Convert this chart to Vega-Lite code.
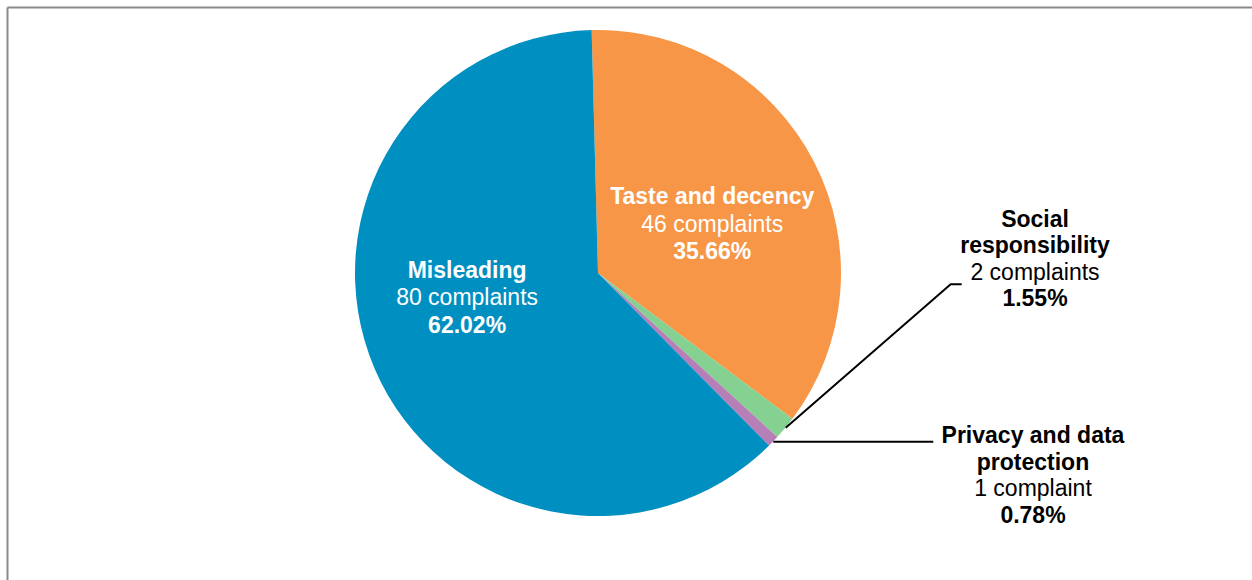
{
  "$schema": "https://vega.github.io/schema/vega-lite/v6.json",
  "width": 1245,
  "height": 573,
  "autosize": "none",
  "padding": {"left": 7, "top": 7, "right": 0, "bottom": 0},
  "background": "white",
  "config": {
    "view": {"stroke": null},
    "text": {"font": "Liberation Sans", "fontSize": 23},
    "axis": {"domain": true, "domainColor": "#898989", "domainWidth": 2, "ticks": false, "labels": false, "grid": false, "title": null}
  },
  "datasets": {
    "slices": [
      {"category": "Taste and decency", "name": "Taste and decency", "complaints": 46, "share": 0.3566, "countLabel": "46 complaints", "seq": 1},
      {"category": "Social responsibility", "name": "Social\nresponsibility", "complaints": 2, "share": 0.0155, "countLabel": "2 complaints", "seq": 2},
      {"category": "Privacy and data protection", "name": "Privacy and data\nprotection", "complaints": 1, "share": 0.0078, "countLabel": "1 complaint", "seq": 3},
      {"category": "Misleading", "name": "Misleading", "complaints": 80, "share": 0.6202, "countLabel": "80 complaints", "seq": 4}
    ],
    "leaders": [
      {"category": "Social responsibility", "pt": 0, "lx": 0.7724, "ly": -0.6366},
      {"category": "Social responsibility", "pt": 1, "lx": 1.4514, "ly": -0.0465},
      {"category": "Social responsibility", "pt": 2, "lx": 1.4967, "ly": -0.0465},
      {"category": "Privacy and data protection", "pt": 0, "lx": 0.7214, "ly": -0.6942},
      {"category": "Privacy and data protection", "pt": 1, "lx": 1.3798, "ly": -0.6942}
    ],
    "callouts": [
      {"category": "Social responsibility", "ax": 1.7984, "ay": 0.1905},
      {"category": "Privacy and data protection", "ax": 1.7901, "ay": -0.7008}
    ]
  },
  "layer": [
    {
      "data": {"name": "slices"},
      "encoding": {
        "x": {"datum": 0, "type": "quantitative", "scale": {"domain": [-2.4321, 2.6914], "nice": false, "zero": false}, "axis": {"orient": "top"}},
        "y": {"datum": 0, "type": "quantitative", "scale": {"domain": [-1.2634, 1.0947], "nice": false, "zero": false}, "axis": {"orient": "left"}},
        "theta": {"field": "complaints", "type": "quantitative", "stack": true, "scale": {"range": [-0.0262, 6.257]}},
        "order": {"field": "seq", "type": "quantitative"}
      },
      "layer": [
        {
          "mark": {"type": "arc", "outerRadius": 243},
          "encoding": {
            "color": {"field": "category", "type": "nominal", "legend": null,
              "scale": {"domain": ["Taste and decency", "Social responsibility", "Privacy and data protection", "Misleading"],
                        "range": ["#F79646", "#85D192", "#B67FB7", "#008FC1"]}}
          }
        },
        {
          "mark": {"type": "text", "radius": 128, "thetaOffset": 0.15, "dx": -7, "dy": -27.5, "fontWeight": "bold", "color": "white", "align": "center", "baseline": "alphabetic"},
          "encoding": {"text": {"condition": {"test": "datum.complaints >= 10", "field": "name", "type": "nominal"}, "value": ""}}
        },
        {
          "mark": {"type": "text", "radius": 128, "thetaOffset": 0.15, "dx": -7, "dy": 0, "color": "white", "align": "center", "baseline": "alphabetic"},
          "encoding": {"text": {"condition": {"test": "datum.complaints >= 10", "field": "countLabel", "type": "nominal"}, "value": ""}}
        },
        {
          "mark": {"type": "text", "radius": 128, "thetaOffset": 0.15, "dx": -7, "dy": 27.5, "fontWeight": "bold", "color": "white", "align": "center", "baseline": "alphabetic"},
          "encoding": {"text": {"condition": {"test": "datum.complaints >= 10", "field": "share", "type": "quantitative", "format": ".2%"}, "value": ""}}
        }
      ]
    },
    {
      "data": {"name": "leaders"},
      "mark": {"type": "line", "color": "#000000", "strokeWidth": 2},
      "encoding": {
        "x": {"field": "lx", "type": "quantitative", "scale": {"domain": [-2.4321, 2.6914], "nice": false, "zero": false}, "axis": {"orient": "top"}},
        "y": {"field": "ly", "type": "quantitative", "scale": {"domain": [-1.2634, 1.0947], "nice": false, "zero": false}, "axis": {"orient": "left"}},
        "detail": {"field": "category", "type": "nominal"},
        "order": {"field": "pt", "type": "quantitative"}
      }
    },
    {
      "data": {"name": "callouts"},
      "transform": [
        {"lookup": "category", "from": {"data": {"name": "slices"}, "key": "category", "fields": ["name", "countLabel", "share"]}}
      ],
      "encoding": {
        "x": {"field": "ax", "type": "quantitative", "scale": {"domain": [-2.4321, 2.6914], "nice": false, "zero": false}, "axis": {"orient": "top"}},
        "y": {"field": "ay", "type": "quantitative", "scale": {"domain": [-1.2634, 1.0947], "nice": false, "zero": false}, "axis": {"orient": "left"}}
      },
      "layer": [
        {
          "mark": {"type": "text", "fontWeight": "bold", "color": "#000000", "align": "center", "baseline": "alphabetic", "lineBreak": "\n", "lineHeight": 26.5},
          "encoding": {"text": {"field": "name", "type": "nominal"}}
        },
        {
          "mark": {"type": "text", "dy": 53, "color": "#000000", "align": "center", "baseline": "alphabetic"},
          "encoding": {"text": {"field": "countLabel", "type": "nominal"}}
        },
        {
          "mark": {"type": "text", "dy": 79.5, "fontWeight": "bold", "color": "#000000", "align": "center", "baseline": "alphabetic"},
          "encoding": {"text": {"field": "share", "type": "quantitative", "format": ".2%"}}
        }
      ]
    }
  ]
}
